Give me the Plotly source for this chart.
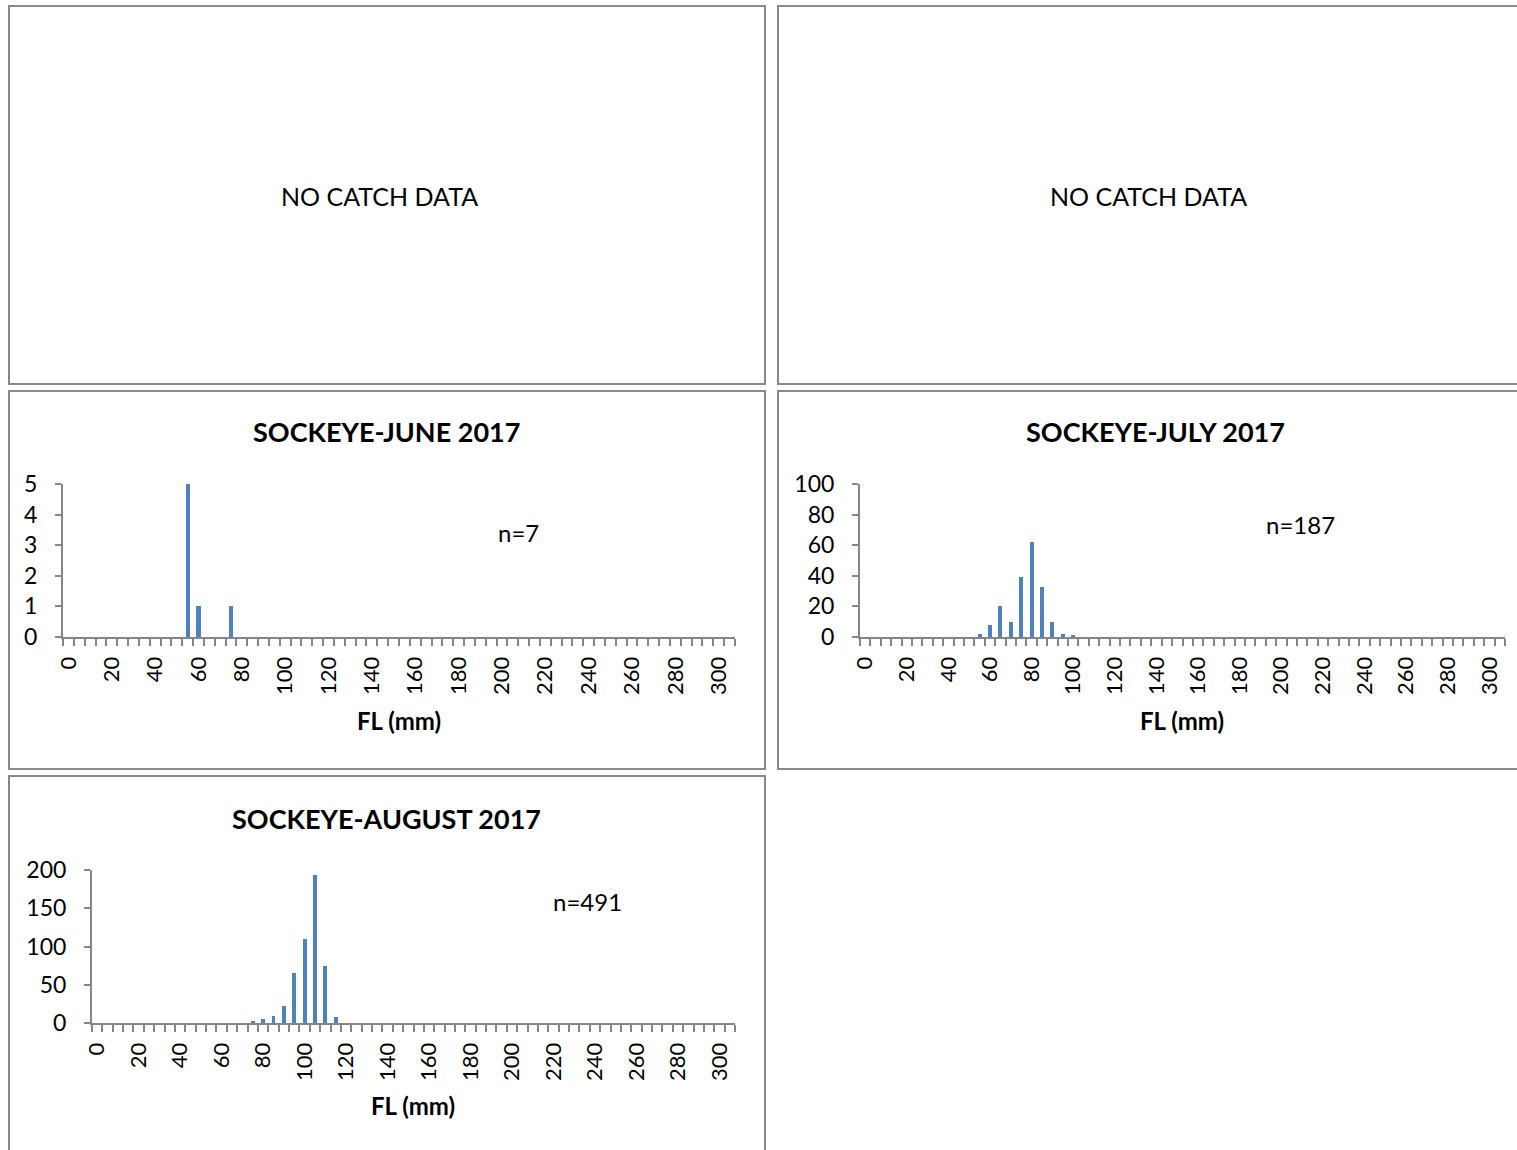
import plotly.graph_objects as go

W, H = 1517, 1150

# ---- data ----
june_bins = [55, 60, 75]
june_counts = [5, 1, 1]

july_bins = [55, 60, 65, 70, 75, 80, 85, 90, 95, 100]
july_counts = [2, 8, 20, 10, 39, 62, 33, 10, 2, 1]

aug_bins = [75, 80, 85, 90, 95, 100, 105, 110, 115]
aug_counts = [3, 5, 9, 22, 66, 110, 194, 74, 8]

x_tick_vals = list(range(0, 301, 20))
june_y_ticks = [0, 1, 2, 3, 4, 5]
july_y_ticks = [0, 20, 40, 60, 80, 100]
aug_y_ticks = [0, 50, 100, 150, 200]

titles = ["SOCKEYE-JUNE 2017", "SOCKEYE-JULY 2017", "SOCKEYE-AUGUST 2017"]
n_labels = ["n=7", "n=187", "n=491"]
no_data_text = "NO CATCH DATA"
x_title = "FL (mm)"

FONT = "Lato"
AX = "#868686"
BAR = "#4F81BD"


def px(x):
    return x / W


def py(y):
    return 1 - y / H


fig = go.Figure()

plots = [
    dict(bins=june_bins, counts=june_counts, yt=june_y_ticks, dom=(63, 735, 484, 637),
         title=titles[0], tx=386, ty=432, n=n_labels[0], nx=518, ny=532, fx=399, fy=720),
    dict(bins=july_bins, counts=july_counts, yt=july_y_ticks, dom=(860, 1505, 484, 637),
         title=titles[1], tx=1155, ty=432, n=n_labels[1], nx=1300, ny=524, fx=1182, fy=720),
    dict(bins=aug_bins, counts=aug_counts, yt=aug_y_ticks, dom=(92, 735, 870, 1023),
         title=titles[2], tx=386, ty=818, n=n_labels[2], nx=587, ny=901, fx=413, fy=1105),
]

annotations = []


def ann(text, x, y, size):
    annotations.append(dict(text=text, x=px(x), y=py(y), xref="paper", yref="paper",
                            xanchor="center", yanchor="middle", showarrow=False,
                            font=dict(family=FONT, size=size, color="#000")))


for i, p in enumerate(plots):
    k = "" if i == 0 else str(i + 1)
    x0, x1, yt, yb = p["dom"]
    fig.add_trace(go.Bar(x=p["bins"], y=p["counts"], marker=dict(color=BAR, line=dict(width=0)),
                         width=1.9, xaxis="x" + k, yaxis="y" + k, showlegend=False))
    fig.update_layout(**{
        "xaxis" + k: dict(domain=[px(x0), px(x1)], anchor="y" + k, range=[-2.5, 307.5],
                         tickmode="array", tickvals=x_tick_vals, ticks="outside", ticklen=9,
                         tickcolor="rgba(0,0,0,0)", tickangle=-90,
                         tickfont=dict(family=FONT, size=22, color="#000"),
                         showline=True, linecolor=AX, linewidth=2, showgrid=False, zeroline=False,
                         minor=dict(tickmode="linear", tick0=-2.5, dtick=5, ticks="outside",
                                    ticklen=7, tickcolor=AX, tickwidth=2, showgrid=False),
                         automargin=False, fixedrange=True),
        "yaxis" + k: dict(domain=[py(yb), py(yt)], anchor="x" + k, range=[0, p["yt"][-1]],
                         tickmode="array", tickvals=p["yt"], ticks="outside", ticklen=6,
                         tickcolor=AX, tickwidth=2, ticklabelstandoff=13,
                         tickfont=dict(family=FONT, size=23, color="#000"),
                         showline=True, linecolor=AX, linewidth=2, showgrid=False, zeroline=False,
                         automargin=False, fixedrange=True),
    })
    ann("<b>" + p["title"] + "</b>", p["tx"], p["ty"], 27)
    ann(p["n"], p["nx"], p["ny"], 24)
    ann("<b>" + x_title + "</b>", p["fx"], p["fy"], 24)

ann(no_data_text, 379, 196, 25)
ann(no_data_text, 1148, 196, 25)

frames = [(9, 6, 765, 384), (778, 6, 1540, 384), (9, 391, 765, 769), (778, 391, 1540, 769),
          (9, 776, 765, 1170)]
shapes = []
for (a, b, c, d) in frames:
    shapes.append(dict(type="rect", xref="paper", yref="paper", x0=px(a), x1=px(c), y0=py(d), y1=py(b),
                       line=dict(color="#898989", width=2), fillcolor="rgba(0,0,0,0)", layer="below"))

fig.update_layout(template="none", width=W, height=H, autosize=False,
                  margin=dict(l=0, r=0, t=0, b=0, pad=0, autoexpand=False),
                  paper_bgcolor="white", plot_bgcolor="white", annotations=annotations,
                  shapes=shapes, bargap=0, showlegend=False)

fig.write_html("out.html", config={"displayModeBar": False, "staticPlot": True},
               post_script="document.body.style.margin='0';document.body.style.overflow='hidden';")
